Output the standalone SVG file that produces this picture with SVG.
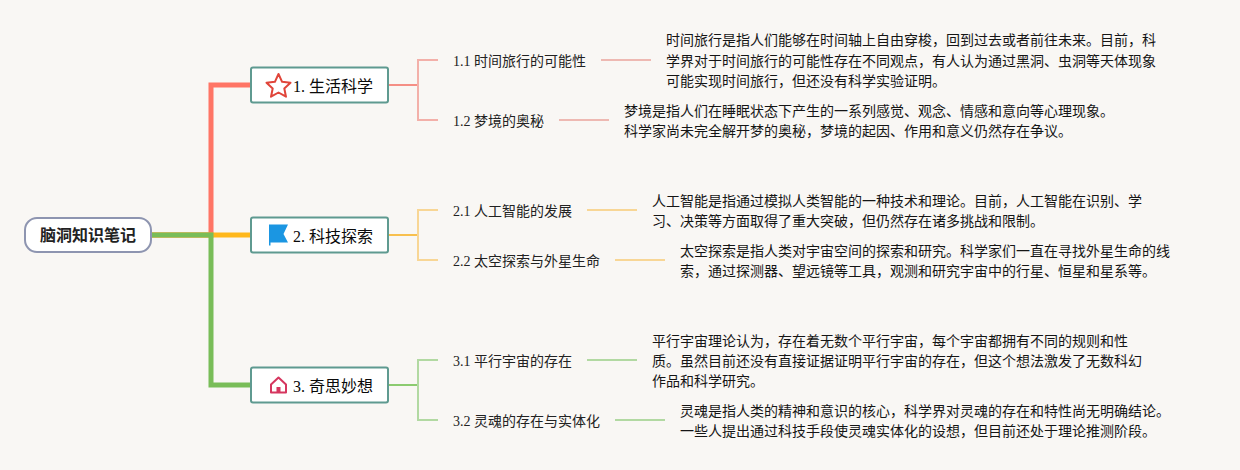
<svg xmlns="http://www.w3.org/2000/svg" width="1240" height="470" viewBox="0 0 1240 470">
<style>
text{font-family:"Liberation Serif","Noto Sans CJK SC",serif;fill:#222}
.main{font-size:16px;fill:#0A0A0A}
.sub{font-size:14px;fill:#222}
.body{font-size:14px;fill:#151515}
.box{fill:#fff;stroke:#5F9A90;stroke-width:2}
.fat{fill:none;stroke-width:5}
.thin{fill:none;stroke-width:2}
.leaf{fill:none;stroke-width:2}
</style>
<rect width="1240" height="470" fill="#F9F7F4"/>
<g id="connectors">
<path class="fat" stroke="#FF7565" d="M152 235H211V85H251"/>
<path class="fat" stroke="#FFB81C" d="M152 235H251"/>
<path class="fat" stroke="#79BD58" stroke-width="4.500" d="M152 235H211V385H251"/>
<path class="thin" stroke="#F58F85" d="M388 85H418"/>
<path class="thin" stroke="#F8C04E" d="M388 235H418"/>
<path class="thin" stroke="#8CCB70" d="M388 385H418"/>
<path class="leaf" stroke="#F3B0A9" d="M438 60H418V120H438"/>
<path class="leaf" stroke="#F8D695" d="M438 210H418V260H438"/>
<path class="leaf" stroke="#B2D9A2" d="M438 360H418V420H438"/>
<path class="leaf" stroke="#EEB9B2" d="M601 60H651M559 120H609"/>
<path class="leaf" stroke="#F8D695" d="M587 210H637M615 260H665"/>
<path class="leaf" stroke="#B2D9A2" d="M587 360H637M615 420H665"/>
</g>
<g id="root">
<rect x="25" y="218" width="126" height="34" rx="12" fill="#fff" stroke="#8E95B0" stroke-width="2"/>
<text x="88" y="241" text-anchor="middle" font-size="16" font-weight="bold" fill="#111">脑洞知识笔记</text>
</g>
<g id="n1">
<rect class="box" x="251" y="67.500" width="137" height="35" rx="2"/>
<path d="M278.500 74l3.600 7.800 8.400 1-6.200 5.700 1.700 8.200-7.500-4.200-7.500 4.200 1.700-8.200-6.200-5.700 8.400-1z" fill="#fff" stroke="#E0453A" stroke-width="2" stroke-linejoin="round"/>
<text class="main" x="293" y="92">1. 生活科学</text>
</g>
<g id="n2">
<rect class="box" x="251" y="217.500" width="137" height="35" rx="2"/>
<path d="M269 224.500H288L283.500 234 288 242.500H270.500V245.500H269Z" fill="#1B96E2"/>
<text class="main" x="293" y="242">2. 科技探索</text>
</g>
<g id="n3">
<rect class="box" x="251" y="367.500" width="137" height="35" rx="2"/>
<path d="M271 384.500L278.500 377.500 286 384.500V392.500H271Z" fill="#fff" stroke="#D6365F" stroke-width="2" stroke-linejoin="round"/>
<rect x="276.500" y="387" width="4" height="6" fill="#D6365F"/>
<text class="main" x="293" y="392">3. 奇思妙想</text>
</g>
<g id="n11"><text class="sub" x="453" y="66">1.1 时间旅行的可能性</text></g>
<g id="n11d"><text class="body" x="666" y="45">时间旅行是指人们能够在时间轴上自由穿梭，回到过去或者前往未来。目前，科</text><text class="body" x="666" y="66">学界对于时间旅行的可能性存在不同观点，有人认为通过黑洞、虫洞等天体现象</text><text class="body" x="666" y="86">可能实现时间旅行，但还没有科学实验证明。</text></g>
<g id="n12"><text class="sub" x="453" y="126">1.2 梦境的奥秘</text></g>
<g id="n12d"><text class="body" x="624" y="116">梦境是指人们在睡眠状态下产生的一系列感觉、观念、情感和意向等心理现象。</text><text class="body" x="624" y="136">科学家尚未完全解开梦的奥秘，梦境的起因、作用和意义仍然存在争议。</text></g>
<g id="n21"><text class="sub" x="453" y="216">2.1 人工智能的发展</text></g>
<g id="n21d"><text class="body" x="652" y="206">人工智能是指通过模拟人类智能的一种技术和理论。目前，人工智能在识别、学</text><text class="body" x="652" y="226">习、决策等方面取得了重大突破，但仍然存在诸多挑战和限制。</text></g>
<g id="n22"><text class="sub" x="453" y="266">2.2 太空探索与外星生命</text></g>
<g id="n22d"><text class="body" x="680" y="256">太空探索是指人类对宇宙空间的探索和研究。科学家们一直在寻找外星生命的线</text><text class="body" x="680" y="276">索，通过探测器、望远镜等工具，观测和研究宇宙中的行星、恒星和星系等。</text></g>
<g id="n31"><text class="sub" x="453" y="366">3.1 平行宇宙的存在</text></g>
<g id="n31d"><text class="body" x="652" y="346">平行宇宙理论认为，存在着无数个平行宇宙，每个宇宙都拥有不同的规则和性</text><text class="body" x="652" y="366">质。虽然目前还没有直接证据证明平行宇宙的存在，但这个想法激发了无数科幻</text><text class="body" x="652" y="386">作品和科学研究。</text></g>
<g id="n32"><text class="sub" x="453" y="426">3.2 灵魂的存在与实体化</text></g>
<g id="n32d"><text class="body" x="680" y="416">灵魂是指人类的精神和意识的核心，科学界对灵魂的存在和特性尚无明确结论。</text><text class="body" x="680" y="436">一些人提出通过科技手段使灵魂实体化的设想，但目前还处于理论推测阶段。</text></g>
</svg>
